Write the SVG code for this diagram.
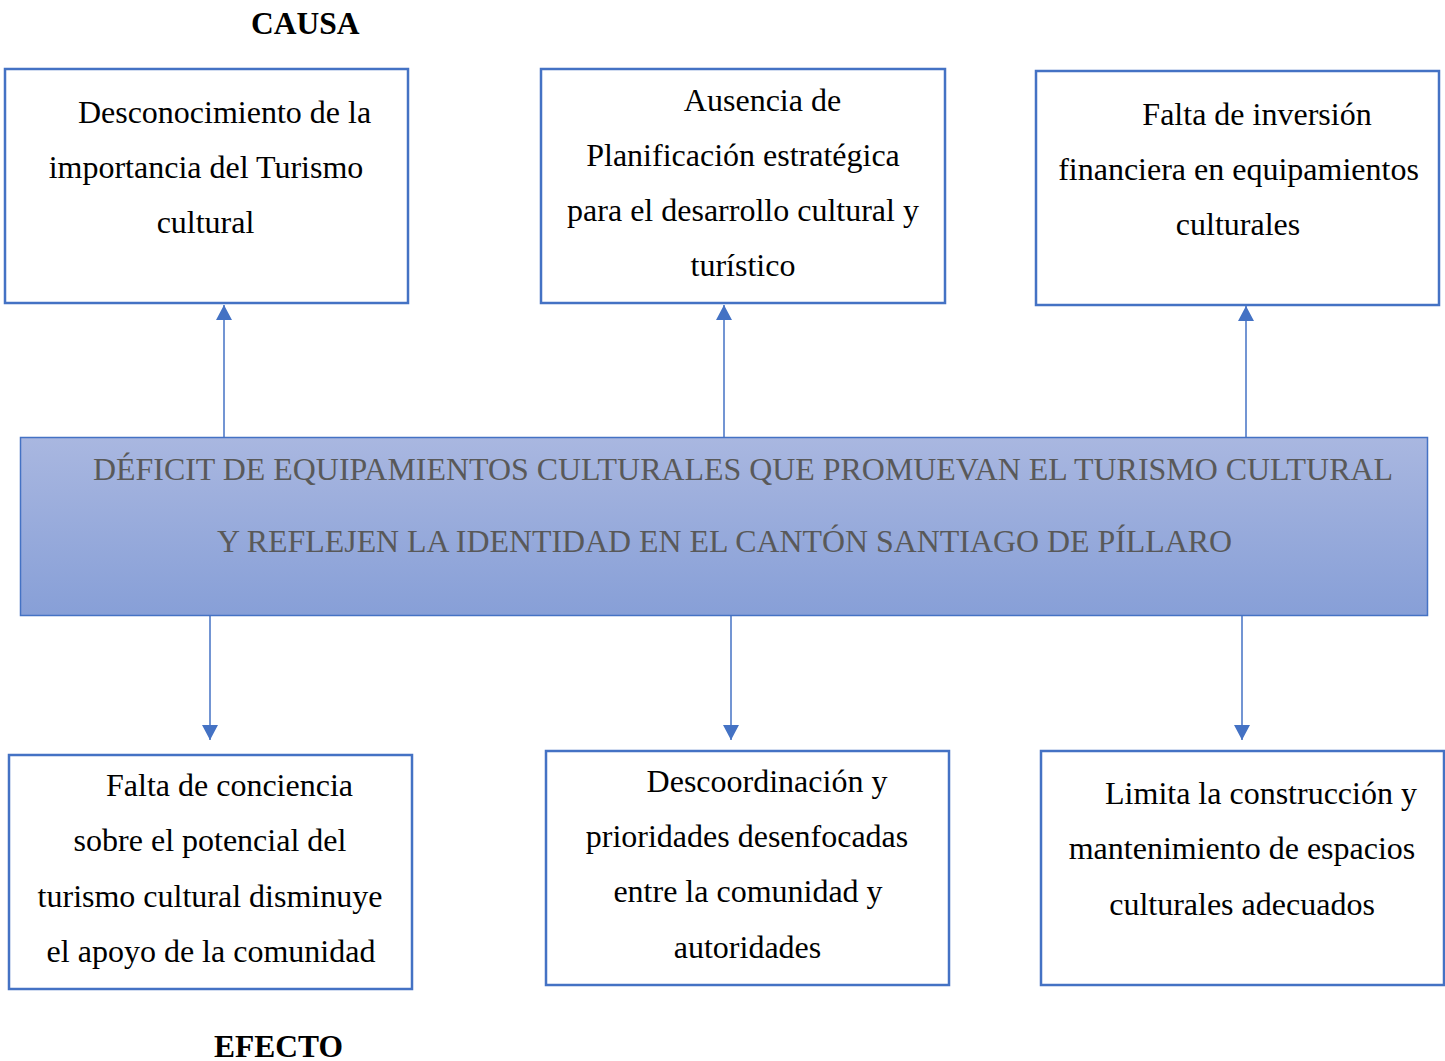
<svg xmlns="http://www.w3.org/2000/svg" width="1445" height="1061" viewBox="0 0 1445 1061">
<defs>
<linearGradient id="g" x1="0" y1="0" x2="0" y2="1">
<stop offset="0" stop-color="#A9B7E0"/>
<stop offset="1" stop-color="#879FD7"/>
</linearGradient>
<marker id="ah" markerWidth="16" markerHeight="16" refX="15" refY="8" orient="auto" markerUnits="userSpaceOnUse">
<path d="M0,0 L15,8 L0,16 Z" fill="#4472C4"/>
</marker>
<style>
.box{fill:#fff;stroke:#4472C4;stroke-width:2.5}
.t{font-family:"Liberation Serif","Times New Roman",serif;font-size:32px;fill:#000;text-anchor:middle}
.m{font-family:"Liberation Serif","Times New Roman",serif;font-size:32px;fill:#595959;text-anchor:middle}
.h{font-family:"Liberation Serif","Times New Roman",serif;font-size:31.5px;font-weight:bold;fill:#000}
.c{stroke:#4472C4;stroke-width:1.5;fill:none;marker-end:url(#ah)}
</style>
</defs>
<text class="h" x="251" y="34">CAUSA</text>
<text class="h" x="214" y="1057">EFECTO</text>
<g id="connectors">
<line class="c" x1="224" y1="437" x2="224" y2="305"/>
<line class="c" x1="724" y1="437" x2="724" y2="305"/>
<line class="c" x1="1246" y1="437" x2="1246" y2="306"/>
<line class="c" x1="210" y1="616" x2="210" y2="740"/>
<line class="c" x1="731" y1="616" x2="731" y2="740"/>
<line class="c" x1="1242" y1="616" x2="1242" y2="740"/>
</g>
<g id="cause1">
<rect class="box" x="5" y="69" width="403" height="234"/>
<text class="t" x="224.5" y="123">Desconocimiento de la</text>
<text class="t" x="206" y="178">importancia del Turismo</text>
<text class="t" x="205.5" y="233">cultural</text>
</g>
<g id="cause2">
<rect class="box" x="541" y="69" width="404" height="234"/>
<text class="t" x="762.5" y="111">Ausencia de</text>
<text class="t" x="743" y="166">Planificación estratégica</text>
<text class="t" x="743" y="221">para el desarrollo cultural y</text>
<text class="t" x="743" y="276">turístico</text>
</g>
<g id="cause3">
<rect class="box" x="1036" y="71" width="403" height="234"/>
<text class="t" x="1257" y="125">Falta de inversión</text>
<text class="t" x="1238.5" y="180">financiera en equipamientos</text>
<text class="t" x="1238" y="235">culturales</text>
</g>
<g id="problem">
<rect x="20.5" y="437.5" width="1407" height="178" fill="url(#g)" stroke="#4472C4" stroke-width="1.5"/>
<text class="m" x="743" y="480" textLength="1300" lengthAdjust="spacingAndGlyphs">DÉFICIT DE EQUIPAMIENTOS CULTURALES QUE PROMUEVAN EL TURISMO CULTURAL</text>
<text class="m" x="724.5" y="552" textLength="1015" lengthAdjust="spacingAndGlyphs">Y REFLEJEN LA IDENTIDAD EN EL CANTÓN SANTIAGO DE PÍLLARO</text>
</g>
<g id="effect1">
<rect class="box" x="9" y="755" width="403" height="234"/>
<text class="t" x="229.5" y="796">Falta de conciencia</text>
<text class="t" x="210" y="851">sobre el potencial del</text>
<text class="t" x="210" y="907">turismo cultural disminuye</text>
<text class="t" x="211" y="962">el apoyo de la comunidad</text>
</g>
<g id="effect2">
<rect class="box" x="546" y="751" width="403" height="234"/>
<text class="t" x="767" y="792">Descoordinación y</text>
<text class="t" x="747" y="847">prioridades desenfocadas</text>
<text class="t" x="748" y="902">entre la comunidad y</text>
<text class="t" x="747.5" y="958">autoridades</text>
</g>
<g id="effect3">
<rect class="box" x="1041" y="751" width="403" height="234"/>
<text class="t" x="1261" y="804">Limita la construcción y</text>
<text class="t" x="1242" y="859">mantenimiento de espacios</text>
<text class="t" x="1242" y="915">culturales adecuados</text>
</g>
</svg>
